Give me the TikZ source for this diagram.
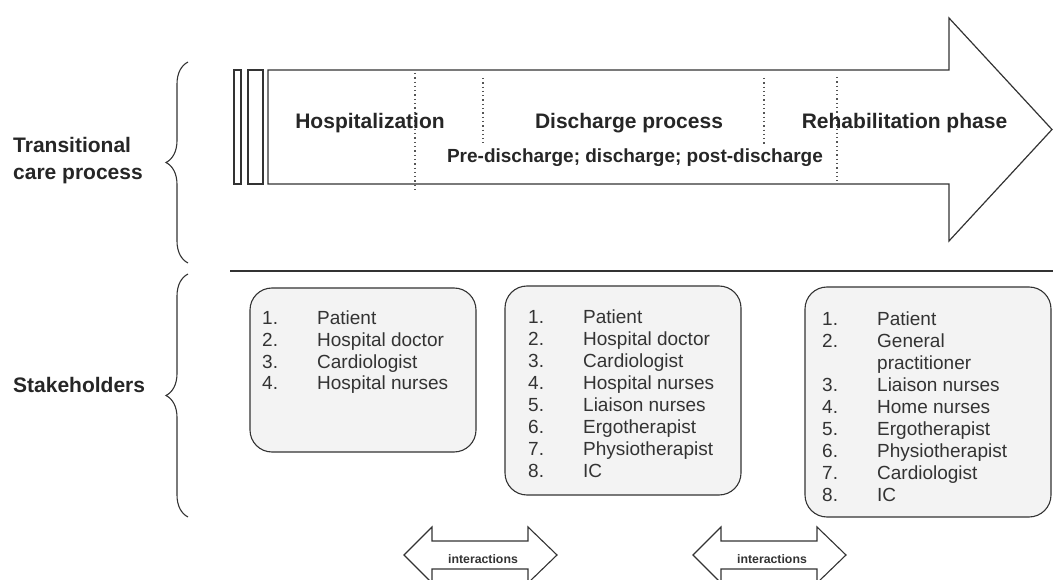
\documentclass[tikz,border=0pt]{standalone}
\usepackage{fontspec}
\setmainfont{Liberation Sans}
\usetikzlibrary{decorations.pathreplacing}

\definecolor{linegray}{HTML}{333333}
\definecolor{boxfill}{HTML}{F3F3F3}
\definecolor{dotgray}{HTML}{555555}

\tikzset{
  stakebox/.style={draw=linegray, fill=boxfill, line width=1.1pt, rounded corners=22pt, inner sep=0},
  stakelist/.style={anchor=north west, inner sep=0, text=linegray, font=\fontsize{19}{22}\selectfont},
  phaselabel/.style={anchor=base, inner sep=0, text=black!85, font=\bfseries\fontsize{21}{25}\selectfont},
  sidelabel/.style={inner sep=0, text=black!85, align=left, font=\bfseries\fontsize{21}{27}\selectfont},
  curly/.style={draw=linegray, line width=1.1pt, decorate, decoration={brace, amplitude=22pt}},
  phasesep/.style={draw=dotgray, line width=1.1pt, dash pattern=on 1.3pt off 3pt}
}

\begin{document}
\begin{tikzpicture}[x=1pt,y=-1pt]
        \useasboundingbox (0,0) rectangle (1053,580);
        \clip (0,0) rectangle (1053,580);

        \begin{scope}[every path/.style={draw=linegray, line width=1.2pt}]
                \draw (268,70) -- (949,70) -- (949,18) -- (1052,129.5) -- (949,241) -- (949,184) -- (268,184) -- cycle;
                \draw (234,70) rectangle (241,184);
                \draw (248,70) rectangle (263,184);
        \end{scope}
        \draw[phasesep] (415,73) -- (415,192);
        \draw[phasesep] (483,78) -- (483,143);
        \draw[phasesep] (764,78) -- (764,145);
        \draw[phasesep] (837,77) -- (837,182);

        \node[phaselabel] (Hosp) at (370,128.5) {Hospitalization};
        \node[phaselabel] (Disch) at (629,128.5) {Discharge process};
        \node[phaselabel] (Rehab) at (904.5,128.5) {Rehabilitation phase};
        \node[phaselabel, font=\bfseries\fontsize{19}{23}\selectfont] (SubDisch) at (635,163) {Pre-discharge; discharge; post-discharge};

        \node[sidelabel, anchor=west] (Tcp) at (13,160.5) {Transitional\\care process};
        \node[sidelabel, anchor=base west] (Stake) at (13,392.5) {Stakeholders};

        \coordinate (TcpTop) at (188,62);
        \coordinate (TcpBot) at (188,263);
        \coordinate (StakeTop) at (188,274);
        \coordinate (StakeBot) at (188,517);
        \draw[curly] (TcpBot) -- (TcpTop);
        \draw[curly] (StakeBot) -- (StakeTop);

        \coordinate (SepL) at (230,271);
        \coordinate (SepR) at (1053,271);
        \draw[linegray, line width=1.1pt] (SepL) -- (SepR);

        \node[stakebox, minimum width=226, minimum height=164] (HospBox) at (363,370) {};
        \node[stakebox, minimum width=236, minimum height=209] (DischBox) at (623,390.5) {};
        \node[stakebox, minimum width=246, minimum height=230] (RehabBox) at (928,402) {};

        \node[stakelist] (HospList) at (262,308.4) {\begin{tabular}{@{}p{55pt}@{}l@{}}
                1. & Patient\\
                2. & Hospital doctor\\
                3. & Cardiologist\\
                4. & Hospital nurses
        \end{tabular}};
        \node[stakelist] (DischList) at (528,307.4) {\begin{tabular}{@{}p{55pt}@{}l@{}}
                1. & Patient\\
                2. & Hospital doctor\\
                3. & Cardiologist\\
                4. & Hospital nurses\\
                5. & Liaison nurses\\
                6. & Ergotherapist\\
                7. & Physiotherapist\\
                8. & IC
        \end{tabular}};
        \node[stakelist] (RehabList) at (822,309.4) {\begin{tabular}{@{}p{55pt}@{}l@{}}
                1. & Patient\\
                2. & General\\
                   & practitioner\\
                3. & Liaison nurses\\
                4. & Home nurses\\
                5. & Ergotherapist\\
                6. & Physiotherapist\\
                7. & Cardiologist\\
                8. & IC
        \end{tabular}};

        \foreach \dx/\nm in {0/IntA, 289/IntB} {
                \begin{scope}[xshift=\dx]
                        \draw[linegray, line width=1.1pt] (404,555) -- (432,527) -- (432,541) -- (528,541) -- (528,527) -- (557,555)
                                -- (528,583) -- (528,569) -- (432,569) -- (432,583) -- cycle;
                        \node[anchor=base, inner sep=0, text=linegray, font=\bfseries\fontsize{12.3}{14}\selectfont] (\nm) at (483,563) {interactions};
                \end{scope}
        }
\end{tikzpicture}
\end{document}
